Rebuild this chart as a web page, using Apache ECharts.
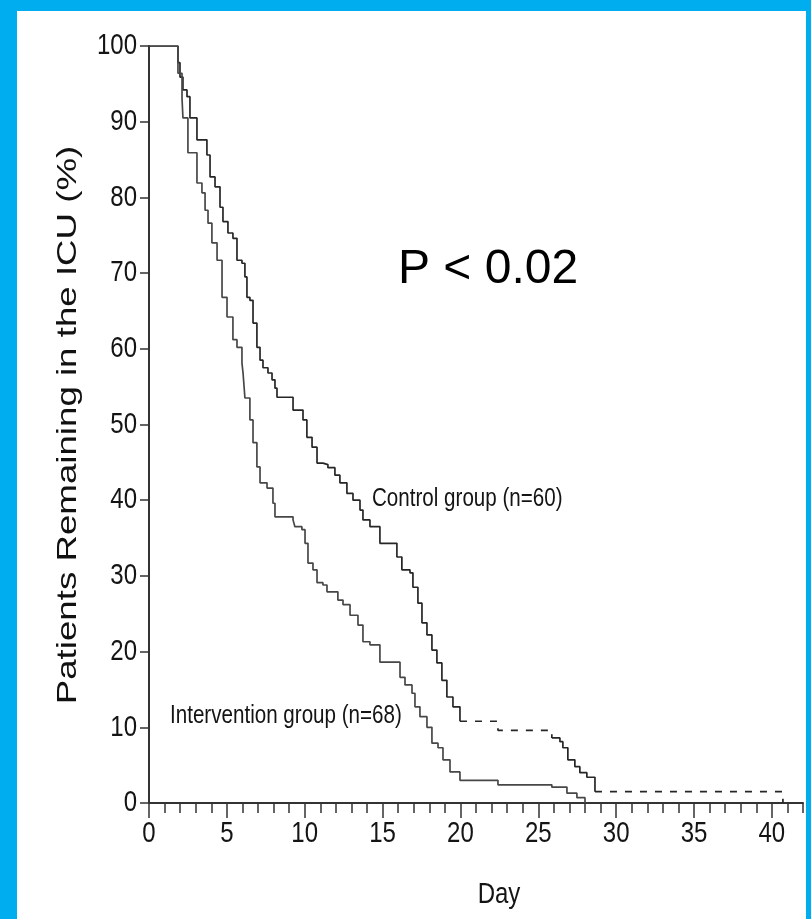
<!DOCTYPE html>
<html>
<head>
<meta charset="utf-8">
<title>Patients Remaining in the ICU</title>
<script src="https://cdn.jsdelivr.net/npm/echarts@6.0.0/dist/echarts.min.js"></script>
<style>
    html, body { margin: 0; padding: 0; background: #00AEEF; }
    #frame { position: absolute; left: 17px; top: 11px; width: 789px; height: 908px; background: #fff; }
    #div_icu { position: absolute; left: 0; top: 0; width: 811px; height: 919px; }
</style>
</head>
<body>
<div id="frame"></div>
<div id="div_icu"></div>
<script>
// 对照组 (n=60): 事件时间(天) / 剩余比例(%)
var controlDays = [0, 1.86, 1.99, 2.18, 2.44, 2.63, 3.08, 3.72, 3.92, 4.24, 4.56, 4.75, 5.07, 5.39, 5.65, 5.97,
    6.16, 6.29, 6.48, 6.68, 6.93, 7.13, 7.32, 7.64, 7.90, 8.09, 8.22, 9.25, 9.89, 10.14, 10.47, 10.79, 11.17,
    11.49, 11.94, 12.26, 12.71, 13.10, 13.55, 13.74, 14.19, 14.83, 15.92, 16.24, 16.76, 16.95, 17.27, 17.53,
    17.85, 18.17, 18.49, 18.81, 19.13, 19.52, 19.97, 22.41, 25.87, 26.39, 26.58, 26.90, 27.35, 27.67, 28.12,
    28.64, 40.71];
var controlPct = [100, 97.8, 95.9, 94.2, 93.3, 90.5, 87.6, 85.6, 82.7, 81.4, 78.7, 76.8, 75.3, 74.6, 71.7, 71.3,
    69.5, 66.8, 66.4, 63.4, 60.2, 58.5, 57.5, 56.8, 55.9, 54.8, 53.6, 51.9, 50.6, 48.3, 47.0, 44.9, 44.7,
    44.3, 43.3, 42.3, 40.9, 40.0, 38.7, 37.4, 36.5, 34.3, 32.5, 30.8, 30.4, 28.5, 26.4, 23.8,
    22.2, 20.2, 18.5, 16.2, 14.0, 12.7, 10.8, 9.6, 8.6, 8.1, 7.3, 5.7, 4.8, 4.0, 3.4,
    1.5, 0];

// 干预组 (n=68)
var interventionDays = [0, 1.86, 2.12, 2.18, 2.50, 3.08, 3.40, 3.60, 3.79, 4.04, 4.37, 4.69, 5.01, 5.39, 5.65,
    5.97, 6.04, 6.16, 6.48, 6.68, 6.93, 7.13, 7.58, 7.96, 8.09, 9.25, 9.37, 9.82, 10.02, 10.21, 10.53, 10.79,
    11.17, 11.43, 12.13, 12.46, 12.91, 13.42, 13.74, 14.19, 14.83, 16.12, 16.44, 16.89, 17.08, 17.40, 17.85,
    18.17, 18.56, 18.88, 19.33, 19.97, 22.41, 25.87, 26.84, 27.48, 28.0];
var interventionPct = [100, 96.4, 93.1, 90.5, 85.9, 81.9, 80.6, 78.3, 76.6, 74.0, 71.7, 66.8, 64.2, 61.2, 60.2,
    58.1, 56.8, 53.5, 50.6, 47.6, 44.4, 42.3, 41.6, 39.6, 37.8, 37.4, 36.5, 36.1, 34.3, 31.7, 30.8, 29.1,
    28.8, 27.9, 26.8, 26.2, 24.8, 23.5, 21.3, 20.9, 18.6, 16.6, 15.6, 14.5, 12.7, 11.4, 10.0,
    7.9, 7.3, 5.7, 4.1, 3.0, 2.4, 2.1, 1.3, 0.7, 0];

// 对照组曲线里画成虚线的时间段
var controlDashed = [[19.97, 25.87], [28.64, 40.71]];

// 刻度标签
var xTickLabels = [0, 5, 10, 15, 20, 25, 30, 35, 40];
var yTickLabels = [0, 10, 20, 30, 40, 50, 60, 70, 80, 90, 100];

var baseFont = "'Liberation Sans', Arial, sans-serif";
var textColor = '#141414';
var axisColor = '#333';
var stretch = 1.24; // 原图文字被纵向拉长

// 取 [from, to] 区间内的点
function slicePoints(days, pct, from, to) {
    var out = [];
    for (var i = 0; i < days.length; i++) {
        if (days[i] >= from && days[i] <= to) {
            out.push([days[i], pct[i]]);
        }
    }
    return out;
}

function kmSeries(name, data, color, dash) {
    return {
        name: name,
        type: 'line',
        step: 'end',
        showSymbol: false,
        data: data,
        xAxisIndex: 0,
        lineStyle: { color: color, width: 1.7, type: dash ? [7, 8] : 'solid' },
        silent: true
    };
}

// 拉长的文字
function tallText(x, y, text, size, align) {
    return {
        type: 'text', x: x, y: y, scaleY: stretch,
        style: { text: text, fontFamily: baseFont, fontSize: size, fill: textColor, align: align, verticalAlign: 'middle' }
    };
}

function showIcuChart() {
    var series = [];
    // 对照组: 实线和虚线分段
    var last = 0;
    for (var i = 0; i < controlDashed.length; i++) {
        series.push(kmSeries('Control', slicePoints(controlDays, controlPct, last, controlDashed[i][0]), '#262626', false));
        series.push(kmSeries('Control', slicePoints(controlDays, controlPct, controlDashed[i][0], controlDashed[i][1]), '#262626', true));
        last = controlDashed[i][1];
    }
    series.push(kmSeries('Intervention', slicePoints(interventionDays, interventionPct, 0, 100), '#474747', false));

    var option_icu = {
        animation: false,
        grid: { left: 149, right: 8, top: 46, bottom: 116 },
        xAxis: [
            {
                type: 'value',
                min: 0,
                max: 42,
                interval: 5,
                position: 'bottom',
                axisLine: { show: true, lineStyle: { color: axisColor, width: 2 } },
                axisTick: { show: true, length: 15, customValues: xTickLabels, lineStyle: { color: axisColor, width: 1.5 } },
                axisLabel: { show: false },
                splitLine: { show: false }
            },
            {
                // 每天一个小刻度
                type: 'value',
                min: 0,
                max: 42,
                interval: 1,
                position: 'bottom',
                axisLine: { show: false },
                axisTick: { show: true, length: 10, lineStyle: { color: axisColor, width: 1.5 } },
                axisLabel: { show: false },
                splitLine: { show: false }
            }
        ],
        yAxis: {
            type: 'value',
            min: 0,
            max: 100,
            interval: 10,
            axisLine: { show: true, lineStyle: { color: axisColor, width: 2 } },
            axisTick: { show: true, length: 9, lineStyle: { color: axisColor, width: 1.5 } },
            axisLabel: { show: false },
            splitLine: { show: false }
        },
        series: series
    };

    var icu_chart = echarts.init(document.getElementById('div_icu'));
    icu_chart.setOption(option_icu);

    // 刻度文字按坐标轴换算位置
    var graphics = [];
    xTickLabels.forEach(function (v) {
        var px = icu_chart.convertToPixel({ xAxisIndex: 0 }, v);
        graphics.push(tallText(px, 834, String(v), 24, 'center'));
    });
    yTickLabels.forEach(function (v) {
        var py = icu_chart.convertToPixel({ yAxisIndex: 0 }, v);
        graphics.push(tallText(137, py, String(v), 24, 'right'));
    });
    graphics.push(tallText(499, 895, 'Day', 24, 'center'));
    graphics.push(tallText(372, 499, 'Control group (n=60)', 20.6, 'left'));
    graphics.push(tallText(170, 716, 'Intervention group (n=68)', 20.6, 'left'));
    graphics.push({
        type: 'text', x: 68, y: 425, rotation: Math.PI / 2, scaleX: 1.31,
        style: { text: 'Patients Remaining in the ICU (%)', fontFamily: baseFont, fontSize: 28, fill: '#111', align: 'center', verticalAlign: 'middle' }
    });
    graphics.push({
        type: 'text', x: 398, y: 270,
        style: { text: 'P < 0.02', fontFamily: baseFont, fontSize: 48, fill: '#000', align: 'left', verticalAlign: 'middle' }
    });
    icu_chart.setOption({ graphic: graphics });
}

showIcuChart();
</script>
</body>
</html>
